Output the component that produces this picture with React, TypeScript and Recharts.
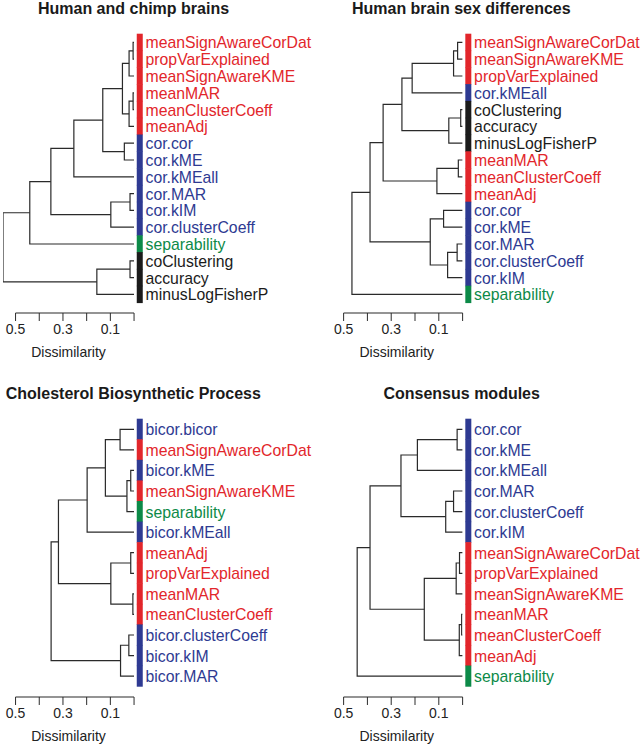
import React from "react";
import { ComposedChart, Line, XAxis, YAxis, ReferenceLine } from "recharts";

type Merge = [number, number, number]; // hclust style: -k = leaf k (display order), +k = merge row k

const COLORS: Record<string, string> = {
  mean: "#E2262B",
  cor: "#2E3A92",
  sep: "#0C8A48",
  stat: "#1B1B1B",
};

// Human and chimp brains
const chimpLabels = [
  "meanSignAwareCorDat", "propVarExplained", "meanSignAwareKME", "meanMAR",
  "meanClusterCoeff", "meanAdj", "cor.cor", "cor.kME", "cor.kMEall", "cor.MAR",
  "cor.kIM", "cor.clusterCoeff", "separability", "coClustering", "accuracy",
  "minusLogFisherP",
];
const chimpGroups = [
  "mean", "mean", "mean", "mean", "mean", "mean", "cor", "cor", "cor", "cor",
  "cor", "cor", "sep", "stat", "stat", "stat",
];
const chimpMerges: Merge[] = [
  [-1, -2, 0.004], [1, -3, 0.021], [-4, -5, 0.004], [3, -6, 0.021],
  [2, 4, 0.049], [-7, -8, 0.041], [5, 6, 0.132], [7, -9, 0.254],
  [-10, -11, 0.017], [9, -12, 0.098], [8, 10, 0.351], [11, -13, 0.44],
  [-14, -15, 0.017], [13, -16, 0.157], [12, 14, 0.553],
];

// Human brain sex differences
const sexLabels = [
  "meanSignAwareCorDat", "meanSignAwareKME", "propVarExplained", "cor.kMEall",
  "coClustering", "accuracy", "minusLogFisherP", "meanMAR", "meanClusterCoeff",
  "meanAdj", "cor.cor", "cor.kME", "cor.MAR", "cor.clusterCoeff", "cor.kIM",
  "separability",
];
const sexGroups = [
  "mean", "mean", "mean", "cor", "stat", "stat", "stat", "mean", "mean", "mean",
  "cor", "cor", "cor", "cor", "cor", "sep",
];
const sexMerges: Merge[] = [
  [-1, -2, 0.021], [1, -3, 0.038], [2, -4, 0.212], [-5, -6, 0.008],
  [4, -7, 0.058], [3, 5, 0.255], [-8, -9, 0.018], [7, -10, 0.108],
  [6, 8, 0.334], [-11, -12, 0.08], [-13, -14, 0.023], [11, -15, 0.063],
  [10, 12, 0.136], [9, 13, 0.389], [14, -16, 0.465],
];

// Cholesterol Biosynthetic Process
const cholLabels = [
  "bicor.bicor", "meanSignAwareCorDat", "bicor.kME", "meanSignAwareKME",
  "separability", "bicor.kMEall", "meanAdj", "propVarExplained", "meanMAR",
  "meanClusterCoeff", "bicor.clusterCoeff", "bicor.kIM", "bicor.MAR",
];
const cholGroups = [
  "cor", "mean", "cor", "mean", "sep", "cor", "mean", "mean", "mean", "mean",
  "cor", "cor", "cor",
];
const cholMerges: Merge[] = [
  [-1, -2, 0.059], [-3, -4, 0.014], [2, -5, 0.03], [1, 3, 0.121],
  [4, -6, 0.198], [-7, -8, 0.014], [-9, -10, 0.005], [6, 7, 0.098],
  [5, 8, 0.319], [-11, -12, 0.022], [10, -13, 0.057], [9, 11, 0.35],
];

// Consensus modules
const consLabels = [
  "cor.cor", "cor.kME", "cor.kMEall", "cor.MAR", "cor.clusterCoeff", "cor.kIM",
  "meanSignAwareCorDat", "propVarExplained", "meanSignAwareKME", "meanMAR",
  "meanClusterCoeff", "meanAdj", "separability",
];
const consGroups = [
  "cor", "cor", "cor", "cor", "cor", "cor", "mean", "mean", "mean", "mean",
  "mean", "mean", "sep",
];
const consMerges: Merge[] = [
  [-1, -2, 0.023], [1, -3, 0.19], [-4, -5, 0.038], [3, -6, 0.071],
  [2, 4, 0.259], [-7, -8, 0.013], [6, -9, 0.027], [-10, -11, 0.004],
  [8, -12, 0.014], [7, 9, 0.161], [5, 10, 0.389], [11, -13, 0.443],
];

const xTicks = [0.5, 0.4, 0.3, 0.2, 0.1, 0];
const xTickLabels = ["0.5", "", "0.3", "", "0.1", ""];

const X_MAX = 0.553;
const FONT = "'Liberation Sans', Arial, Helvetica, sans-serif";

interface Panel {
  title: string;
  labels: string[];
  groups: string[];
  merges: Merge[];
  x0: number;
  pxPerUnit: number;
  plotTop: number;
  axisY: number;
  step: number;
  titleX: number;
  titleBase: number;
}

const panels: Panel[] = [
  {
    title: "Human and chimp brains", labels: chimpLabels, groups: chimpGroups,
    merges: chimpMerges, x0: 134.3, pxPerUnit: 237, plotTop: 34.3, axisY: 313.3,
    step: 16.8, titleX: 133.5, titleBase: 14.8,
  },
  {
    title: "Human brain sex differences", labels: sexLabels, groups: sexGroups,
    merges: sexMerges, x0: 462.7, pxPerUnit: 238, plotTop: 34.3, axisY: 313.3,
    step: 16.8, titleX: 461.3, titleBase: 14.8,
  },
  {
    title: "Cholesterol Biosynthetic Process", labels: cholLabels, groups: cholGroups,
    merges: cholMerges, x0: 134.3, pxPerUnit: 237, plotTop: 419.3, axisY: 697.3,
    step: 20.57, titleX: 133.3, titleBase: 399,
  },
  {
    title: "Consensus modules", labels: consLabels, groups: consGroups,
    merges: consMerges, x0: 462.7, pxPerUnit: 238, plotTop: 419.3, axisY: 697.3,
    step: 20.57, titleX: 461.7, titleBase: 399,
  },
];

function buildLinks(merges: Merge[]) {
  const nodes: { h: number; y: number }[] = [];
  return merges.map(([a, b, h]) => {
    const ca = a < 0 ? { h: 0, y: -a } : nodes[a - 1];
    const cb = b < 0 ? { h: 0, y: -b } : nodes[b - 1];
    nodes.push({ h, y: (ca.y + cb.y) / 2 });
    return [
      { h: ca.h, y: ca.y },
      { h, y: ca.y },
      { h, y: cb.y },
      { h: cb.h, y: cb.y },
    ];
  });
}

const MARGIN_TOP = 4;
const X_AXIS_H = 30;
const MARGIN_BOTTOM = 22;
const Y_AXIS_W = 180;

function Dendrogram({ p }: { p: Panel }) {
  const plotW = X_MAX * p.pxPerUnit;
  const plotH = p.axisY - p.plotTop;
  const yMax = 0.5 + plotH / p.step;
  const links = buildLinks(p.merges);
  const leafTicks = p.labels.map((_, i) => i + 1);

  const LeafTick = (props: any) => {
    const { x, y, payload } = props;
    const i = Math.round(payload.value) - 1;
    const c = COLORS[p.groups[i]];
    return (
      <g>
        <rect x={x + 2.7} y={y - p.step / 2 - 0.3} width={6} height={p.step + 0.6} fill={c} />
        <text x={x + 11.5} y={y} dy="0.38em" fill={c} fontSize={15.8} fontFamily={FONT}>
          {p.labels[i]}
        </text>
      </g>
    );
  };

  return (
    <>
      <div
        style={{
          position: "absolute",
          left: p.titleX - 160,
          top: p.titleBase - 13.5,
          width: 320,
          textAlign: "center",
          fontWeight: "bold",
          fontSize: 16,
          lineHeight: "16px",
          color: "#1a1a1a",
          fontFamily: FONT,
        }}
      >
        {p.title}
      </div>
      <div style={{ position: "absolute", left: p.x0 - plotW, top: p.plotTop - MARGIN_TOP }}>
        <ComposedChart
          width={plotW + Y_AXIS_W}
          height={MARGIN_TOP + plotH + X_AXIS_H + MARGIN_BOTTOM}
          margin={{ top: MARGIN_TOP, right: 0, bottom: MARGIN_BOTTOM, left: 0 }}
        >
          <XAxis
            type="number"
            dataKey="h"
            domain={[0, X_MAX]}
            allowDataOverflow
            reversed
            ticks={xTicks}
            interval={0}
            height={X_AXIS_H}
            axisLine={false}
            tickSize={8}
            tickMargin={3}
            tickLine={{ stroke: "#2a2a2a" }}
            tick={{ fontSize: 14, fill: "#222", fontFamily: FONT }}
            tickFormatter={(v: number) => xTickLabels[xTicks.indexOf(v)] ?? ""}
            label={{
              value: "Dissimilarity",
              position: "bottom",
              offset: 4,
              fontSize: 14,
              fill: "#222",
              fontFamily: FONT,
            }}
          />
          <YAxis
            type="number"
            orientation="right"
            domain={[0.5, yMax]}
            allowDataOverflow
            reversed
            ticks={leafTicks}
            interval={0}
            width={Y_AXIS_W}
            axisLine={false}
            tickLine={false}
            tickSize={0}
            tickMargin={0}
            tick={<LeafTick />}
          />
          <ReferenceLine
            segment={[{ x: 0.5, y: yMax }, { x: 0, y: yMax }]}
            stroke="#2a2a2a"
            strokeWidth={1.1}
            ifOverflow="visible"
          />
          {links.map((link, i) => (
            <Line
              key={i}
              data={link}
              dataKey="y"
              type="linear"
              stroke="#2a2a2a"
              strokeWidth={1.2}
              dot={false}
              activeDot={false}
              legendType="none"
              isAnimationActive={false}
            />
          ))}
        </ComposedChart>
      </div>
    </>
  );
}

export default function App() {
  return (
    <div
      style={{
        position: "absolute",
        left: 0,
        top: 0,
        width: 643,
        height: 748,
        background: "#fff",
        fontFamily: FONT,
      }}
    >
      {panels.map((p) => (
        <Dendrogram key={p.title} p={p} />
      ))}
    </div>
  );
}
